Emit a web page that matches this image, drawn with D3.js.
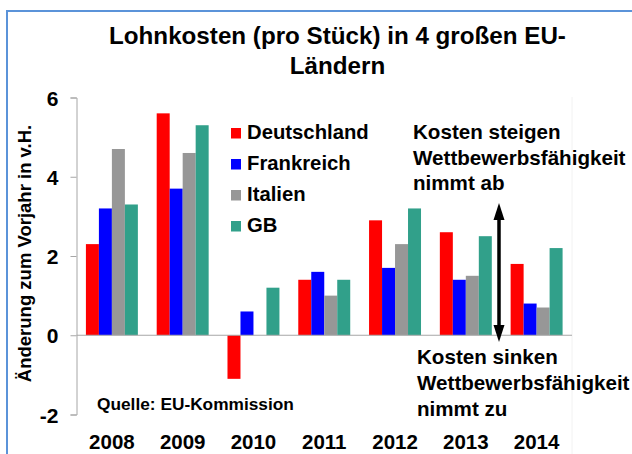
<!DOCTYPE html>
<html><head><meta charset="utf-8">
<script src="https://cdn.jsdelivr.net/npm/d3@7"></script>
<style>
body{margin:0;background:#fff}
svg{display:block}
text{font-family:"Liberation Sans",Arial,sans-serif;font-weight:bold;fill:#000}
</style>
</head><body>
<svg id="c" width="632" height="454"></svg>
<script>
// ---- data ----
const years = ["2008","2009","2010","2011","2012","2013","2014"];
const seriesNames = ["Deutschland","Frankreich","Italien","GB"];
const deutschland = [2.3, 5.6, -1.1, 1.4, 2.9, 2.6, 1.8];
const frankreich  = [3.2, 3.7, 0.6, 1.6, 1.7, 1.4, 0.8];
const italien     = [4.7, 4.6, 0.0, 1.0, 2.3, 1.5, 0.7];
const gb          = [3.3, 5.3, 1.2, 1.4, 3.2, 2.5, 2.2];
const yTicks = [-2, 0, 2, 4, 6];
const seriesColors = ["#ff0000", "#0000ff", "#979797", "#31a08a"];
const titleLines = ["Lohnkosten (pro Stück) in 4 großen EU-", "Ländern"];
const yTitle = "Änderung zum Vorjahr in v.H.";
const source = "Quelle: EU-Kommission";
const noteUp = ["Kosten steigen", "Wettbewerbsfähigkeit", "nimmt ab"];
const noteDown = ["Kosten sinken", "Wettbewerbsfähigkeit", "nimmt zu"];

const seriesValues = [deutschland, frankreich, italien, gb];
const table = years.map((y, i) => ({year: y, values: seriesValues.map((s, k) => ({name: seriesNames[k], v: s[i], k}))}));

const svg = d3.select("#c");

// frame
svg.append("path").attr("d", "M7,454V11H632").attr("fill", "none")
  .attr("stroke", "#5b93d9").attr("stroke-width", 2);

// scales
const left = 76.5, right = 572;
const x = d3.scaleBand().domain(years).range([left, right]).paddingInner(0.266).paddingOuter(0.133);
const xs = d3.scaleBand().domain(seriesNames).range([0, x.bandwidth()]).padding(0);
const y = d3.scaleLinear().domain([-2, 6]).range([414.5, 97.5]);

// faint plot-area right edge
svg.append("line").attr("x1", right).attr("x2", right).attr("y1", 97).attr("y2", 454)
  .attr("stroke", "#f2f2f2").attr("stroke-width", 1);

// bars
const g = svg.append("g");
g.selectAll("g.grp").data(table).join("g").attr("class", "grp")
  .attr("transform", d => `translate(${x(d.year)},0)`)
  .selectAll("rect").data(d => d.values).join("rect")
  .attr("x", d => xs(d.name))
  .attr("width", xs.bandwidth())
  .attr("y", d => y(Math.max(0, d.v)))
  .attr("height", d => Math.abs(y(d.v) - y(0)))
  .attr("fill", d => seriesColors[d.k]);

// zero line
svg.append("line").attr("x1", left).attr("x2", right).attr("y1", y(0)).attr("y2", y(0))
  .attr("stroke", "#a6a6a6").attr("stroke-width", 1.2);

// y axis
const yAxis = svg.append("g").attr("transform", `translate(${left},0)`)
  .call(d3.axisLeft(y).tickValues(yTicks).tickSize(6).tickPadding(12).tickFormat(d => String(d)));
yAxis.select(".domain").attr("stroke", "#a6a6a6");
yAxis.selectAll(".tick line").attr("stroke", "#a6a6a6");
yAxis.selectAll(".tick text").attr("font-size", 21).attr("font-family", null).attr("dy", "0.36em");

// x labels
const xAxis = svg.append("g").attr("transform", `translate(0,430)`)
  .call(d3.axisBottom(x).tickSize(0).tickPadding(0));
xAxis.select(".domain").remove();
xAxis.selectAll(".tick text").attr("font-size", 20.5).attr("font-family", null).attr("dy", "0.92em");

// title
svg.append("text").attr("x", 337.5).attr("y", 44).attr("text-anchor", "middle")
  .attr("font-size", 24.2).text(titleLines[0]);
svg.append("text").attr("x", 337.5).attr("y", 74).attr("text-anchor", "middle")
  .attr("font-size", 24.2).text(titleLines[1]);

// y title
svg.append("text").attr("transform", "translate(31,253.5) rotate(-90)").attr("text-anchor", "middle")
  .attr("font-size", 18.5).text(yTitle);

// legend
const leg = svg.append("g").selectAll("g").data(seriesNames).join("g")
  .attr("transform", (d, i) => `translate(231,${139 + i * 31})`);
leg.append("rect").attr("x", 0).attr("y", -11).attr("width", 10).attr("height", 10.5)
  .attr("fill", (d, i) => seriesColors[i]);
leg.append("text").attr("x", 16).attr("y", 0).attr("font-size", 20.3).text(d => d);

// source
svg.append("text").attr("x", 97).attr("y", 409.5).attr("font-size", 17.3).text(source);

// notes
noteUp.forEach((t, i) => svg.append("text").attr("x", 413).attr("y", 139 + i * 25.7)
  .attr("font-size", 20.6).text(t));
noteDown.forEach((t, i) => svg.append("text").attr("x", 417).attr("y", 364 + i * 26)
  .attr("font-size", 20.6).text(t));

// double arrow
const ax = 499, aTop = 203, aBot = 342, hl = 17, hw = 5.5;
svg.append("line").attr("x1", ax).attr("x2", ax).attr("y1", aTop + hl - 2).attr("y2", aBot - hl + 2)
  .attr("stroke", "#000").attr("stroke-width", 3.5);
svg.append("path").attr("d", `M${ax},${aTop}L${ax - hw},${aTop + hl}L${ax + hw},${aTop + hl}Z`).attr("fill", "#000");
svg.append("path").attr("d", `M${ax},${aBot}L${ax - hw},${aBot - hl}L${ax + hw},${aBot - hl}Z`).attr("fill", "#000");
</script>
</body></html>
